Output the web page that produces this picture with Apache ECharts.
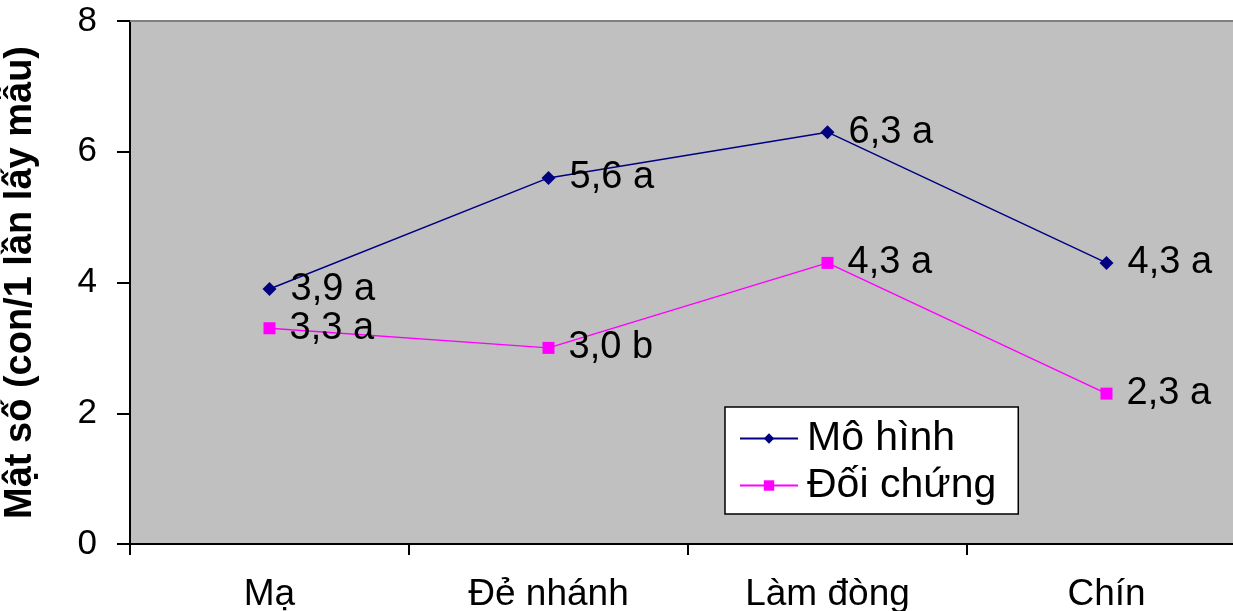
<!DOCTYPE html>
<html><head><meta charset="utf-8">
<script src="https://cdn.jsdelivr.net/npm/echarts@6/dist/echarts.min.js"></script>
<style>html,body{margin:0;padding:0;background:#fff}#c{width:1233px;height:611px}</style>
</head><body><div id="c"></div>
<script>
const categories = ['Mạ', 'Đẻ nhánh', 'Làm đòng', 'Chín'];
const moHinh = [3.9, 5.6, 6.3, 4.3];
const doiChung = [3.3, 3.0, 4.3, 2.3];
const moHinhLabels = ['3,9 a', '5,6 a', '6,3 a', '4,3 a'];
const doiChungLabels = ['3,3 a', '3,0 b', '4,3 a', '2,3 a'];
const yTicks = [0, 2, 4, 6, 8];

const font = '"Liberation Sans", Arial, sans-serif';
const chart = echarts.init(document.getElementById('c'), null, {renderer: 'canvas'});
function mkSeries(name, data, labels, color, symbol, size) {
  return {
    name, type: 'line', data,
    symbol, symbolSize: size,
    lineStyle: {color, width: 1.5},
    itemStyle: {color},
    label: {
      show: true, position: 'right', distance: 14,
      formatter: p => labels[p.dataIndex],
      color: '#000', fontFamily: font, fontSize: 38
    },
    animation: false
  };
}
chart.setOption({
  animation: false,
  grid: {
    left: 130, top: 21, width: 1116, height: 523,
    show: true, backgroundColor: '#C0C0C0', borderWidth: 0,
    outerBoundsMode: 'none', containLabel: false
  },
  legend: {
    orient: 'vertical', left: 725, top: 407,
    backgroundColor: '#fff', borderColor: '#000', borderWidth: 1.5,
    padding: [11, 22, 8, 14], itemGap: 6,
    itemWidth: 58, itemHeight: 13,
    textStyle: {fontFamily: font, fontSize: 41, color: '#000', padding: [0, 0, 0, 4]},
    data: ['Mô hình', 'Đối chứng']
  },
  xAxis: [{
    type: 'category', data: categories, boundaryGap: true,
    axisLine: {lineStyle: {color: '#000', width: 2}},
    axisTick: {show: true, length: 11, lineStyle: {color: '#000', width: 2}},
    axisLabel: {color: '#000', fontFamily: font, fontSize: 37, margin: 32},
    splitLine: {show: false}
  }, {
    type: 'category', data: categories, position: 'top',
    axisLine: {show: true, lineStyle: {color: '#808080', width: 2}},
    axisTick: {show: false}, axisLabel: {show: false}, splitLine: {show: false}
  }],
  yAxis: {
    type: 'value', min: yTicks[0], max: yTicks[yTicks.length - 1], interval: 2,
    name: 'Mật số (con/1 lần lấy mẫu)', nameLocation: 'middle', nameGap: 90,
    nameTextStyle: {fontFamily: font, fontSize: 38, fontWeight: 'bold', color: '#000'},
    axisLine: {show: true, lineStyle: {color: '#000', width: 2}},
    axisTick: {show: true, length: 13, lineStyle: {color: '#000', width: 2}},
    axisLabel: {color: '#000', fontFamily: font, fontSize: 35, margin: 33},
    splitLine: {show: false}
  },
  series: [
    mkSeries('Mô hình', moHinh, moHinhLabels, '#000080', 'diamond', 14),
    mkSeries('Đối chứng', doiChung, doiChungLabels, '#FF00FF', 'rect', 12)
  ]
});
</script></body></html>
